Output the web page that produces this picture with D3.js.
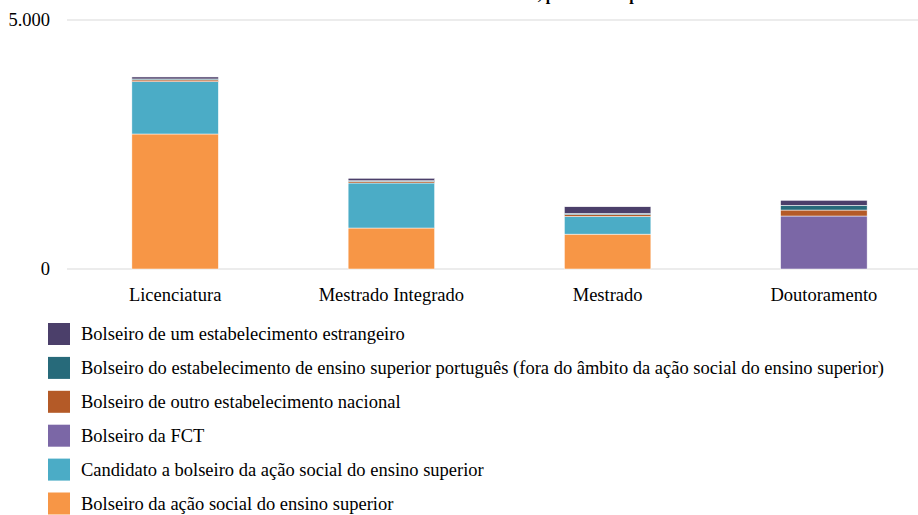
<!DOCTYPE html>
<html>
<head>
	<meta charset="utf-8">
	<script src="https://d3js.org/d3.v7.min.js"></script>
	<style>
		body { margin: 0; background: #fff; }
		svg text { font-family: "Liberation Serif", "DejaVu Serif", "Times New Roman", serif; fill: #000; }
	</style>
</head>
<body>
	<div class="chart"></div>
	<script>
		// categories and series, bottom of the stack first
		var categories = ["Licenciatura", "Mestrado Integrado", "Mestrado", "Doutoramento"];
		var seriesNames = [
			"Bolseiro da ação social do ensino superior",
			"Candidato a bolseiro da ação social do ensino superior",
			"Bolseiro da FCT",
			"Bolseiro de outro estabelecimento nacional",
			"Bolseiro do estabelecimento de ensino superior português (fora do âmbito da ação social do ensino superior)",
			"Bolseiro de um estabelecimento estrangeiro"
		];
		var acaoSocial   = [2711, 823, 700, 0];
		var candidato    = [1050, 904, 355, 0];
		var fct          = [0, 0, 0, 1064];
		var outroNac     = [35, 30, 35, 120];
		var estabPt      = [20, 15, 25, 95];
		var estrangeiro  = [40, 50, 135, 100];
		var colors = ["#F79646", "#4BACC6", "#7B67A6", "#B45A27", "#276A7A", "#4B3F6A"];
		var yTicks = [0, 5000];

		var w = 918, h = 515;
		var font = "'Liberation Serif', 'DejaVu Serif', 'Times New Roman', serif";
		var svg = d3.select(".chart").append("svg")
			.attr("width", w)
			.attr("height", h)
			.attr("font-family", font);

		var seriesValues = [acaoSocial, candidato, fct, outroNac, estabPt, estrangeiro];
		var rows = categories.map(function(c, i) {
			var r = { cat: c };
			seriesNames.forEach(function(s, k) { r[s] = seriesValues[k][i]; });
			return r;
		});
		var stacked = d3.stack().keys(seriesNames)(rows);

		var x = d3.scaleBand().domain(categories).range([67, 932]).padding(0);
		var y = d3.scaleLinear().domain([0, 5000]).range([269, 20]);
		var barW = x.bandwidth() * 0.4;

		// title (mostly above the visible area, as in the source)
		svg.append("text")
			.attr("x", 521)
			.attr("y", 0)
			.attr("text-anchor", "middle")
			.style("font-weight", "bold")
			.style("font-size", "16px")
			.text("Estudantes bolseiros inscritos, por ciclo e tipo de bolsa");

		// gridlines
		svg.append("g").selectAll("line")
			.data(yTicks)
			.enter().append("line")
			.attr("x1", 67).attr("x2", w)
			.attr("y1", function(d) { return y(d); })
			.attr("y2", function(d) { return y(d); })
			.attr("stroke", "#d9d9d9")
			.attr("stroke-width", 1);

		svg.append("g").selectAll("text")
			.data(yTicks)
			.enter().append("text")
			.attr("x", 50)
			.attr("y", function(d) { return y(d); })
			.attr("dy", "0.35em")
			.attr("text-anchor", "end")
			.style("font-size", "18.5px")
			.text(function(d) { return d3.format(",")(d).replace(/,/g, "."); });

		// bars
		var g = svg.append("g");
		g.selectAll("g")
			.data(stacked)
			.enter().append("g")
			.attr("fill", function(d, i) { return colors[i]; })
			.selectAll("rect")
			.data(function(d) { return d; })
			.enter().append("rect")
			.filter(function(d) { return d[1] - d[0] > 0; })
			.attr("x", function(d) { return x(d.data.cat) + (x.bandwidth() - barW) / 2; })
			.attr("width", barW)
			.attr("y", function(d) { return y(d[1]); })
			.attr("height", function(d) { return y(d[0]) - y(d[1]); })
			.attr("stroke", "#fff")
			.attr("stroke-width", 0.5);

		// category labels
		svg.append("g").selectAll("text")
			.data(categories)
			.enter().append("text")
			.attr("x", function(d) { return x(d) + x.bandwidth() / 2; })
			.attr("y", 301)
			.attr("text-anchor", "middle")
			.style("font-size", "18.5px")
			.text(function(d) { return d; });

		// legend, top entry is the top of the stack
		var legendOrder = d3.range(seriesNames.length).reverse();
		var lg = svg.append("g").selectAll("g")
			.data(legendOrder)
			.enter().append("g")
			.attr("transform", function(d, i) { return "translate(48," + (323 + i * 33.9) + ")"; });
		lg.append("rect")
			.attr("width", 22).attr("height", 22)
			.attr("fill", function(d) { return colors[d]; });
		lg.append("text")
			.attr("x", 33)
			.attr("y", 11)
			.attr("dy", "0.35em")
			.style("font-size", "18.5px")
			.text(function(d) { return seriesNames[d]; });
	</script>
</body>
</html>
